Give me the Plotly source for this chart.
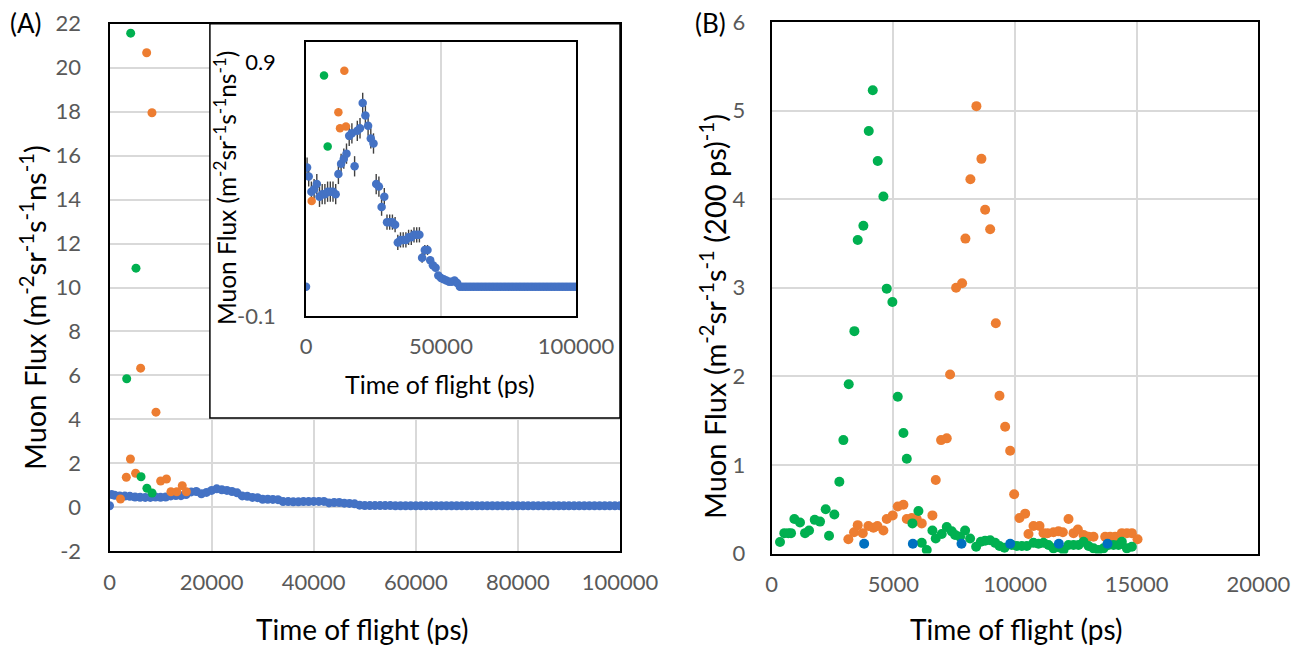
import plotly.graph_objects as go

# ---------------- DATA ----------------
# Panel A main (flux per ns)
blue_a_x = [0, 400, 1000, 2000, 3000, 4000, 5000, 6000, 7000, 8000, 9000, 10000,
            11000, 12000, 13000, 14000, 15000, 16000, 17000, 18000, 19000, 20000,
            21000, 22000, 23000, 24000, 25000, 26000, 27000, 28000, 29000, 30000,
            31000, 32000, 33000, 34000, 35000, 36000, 37000, 38000, 39000, 40000,
            41000, 42000, 43000, 44000, 45000, 46000, 47000, 48000, 49000, 50000,
            51000, 52000, 53000, 54000, 55000, 56000, 57000, 58000, 59000, 60000,
            61000, 62000, 63000, 64000, 65000, 66000, 67000, 68000, 69000, 70000,
            71000, 72000, 73000, 74000, 75000, 76000, 77000, 78000, 79000, 80000,
            81000, 82000, 83000, 84000, 85000, 86000, 87000, 88000, 89000, 90000,
            91000, 92000, 93000, 94000, 95000, 96000, 97000, 98000, 99000, 100000]
blue_a_y = [0.07, 0.58, 0.55, 0.52, 0.51, 0.5, 0.47, 0.46, 0.45, 0.45, 0.47, 0.46,
            0.47, 0.52, 0.54, 0.53, 0.58, 0.7, 0.72, 0.62, 0.68, 0.77,
            0.84, 0.8, 0.77, 0.72, 0.66, 0.52, 0.5, 0.45, 0.44, 0.37,
            0.37, 0.36, 0.35, 0.26, 0.26, 0.25, 0.25, 0.26, 0.26, 0.27,
            0.27, 0.27, 0.2, 0.22, 0.22, 0.19, 0.18, 0.16, 0.1, 0.08,
            0.08, 0.08, 0.08, 0.08, 0.08, 0.07, 0.07, 0.07, 0.07, 0.07,
            0.07, 0.07, 0.07, 0.07, 0.07, 0.07, 0.07, 0.07, 0.07, 0.07,
            0.07, 0.07, 0.07, 0.07, 0.07, 0.07, 0.07, 0.07, 0.07, 0.07,
            0.07, 0.07, 0.07, 0.07, 0.07, 0.07, 0.07, 0.07, 0.07, 0.07,
            0.07, 0.07, 0.07, 0.07, 0.07, 0.07, 0.07, 0.07, 0.07, 0.07]
orange_a_x = [2150, 3290, 4100, 5110, 6100, 7280, 8320, 9100, 10020, 11160,
              12030, 13180, 14250, 15060]
orange_a_y = [0.38, 1.37, 2.2, 1.55, 6.33, 20.68, 17.95, 4.33, 1.2, 1.29,
              0.71, 0.71, 0.98, 0.71]
green_a_x = [3370, 4150, 5190, 6180, 7330, 8340]
green_a_y = [5.85, 21.57, 10.88, 1.39, 0.87, 0.65]

# Inset (as drawn in the inset)
blue_in_y = [0.015, 0.485, 0.45, 0.39, 0.40, 0.42, 0.37, 0.38, 0.38, 0.39, 0.39, 0.39,
             0.38, 0.46, 0.50, 0.52, 0.54, 0.61, 0.62, 0.49, 0.63, 0.64,
             0.74, 0.69, 0.65, 0.60, 0.58, 0.42, 0.41, 0.33, 0.37, 0.27,
             0.27, 0.27, 0.26, 0.19, 0.20, 0.20, 0.20, 0.21, 0.21, 0.22,
             0.22, 0.22, 0.13, 0.16, 0.16, 0.12, 0.10, 0.09, 0.06, 0.05,
             0.045, 0.04, 0.035, 0.035, 0.04, 0.03, 0.015, 0.015, 0.015, 0.015,
             0.015, 0.015, 0.015, 0.015, 0.015, 0.015, 0.015, 0.015, 0.015, 0.015,
             0.015, 0.015, 0.015, 0.015, 0.015, 0.015, 0.015, 0.015, 0.015, 0.015,
             0.015, 0.015, 0.015, 0.015, 0.015, 0.015, 0.015, 0.015, 0.015, 0.015,
             0.015, 0.015, 0.015, 0.015, 0.015, 0.015, 0.015, 0.015, 0.015, 0.015]
blue_in_err = [0.0, 0.04, 0.04, 0.04, 0.04, 0.04, 0.04, 0.04, 0.04, 0.04, 0.04, 0.04,
               0.04, 0.04, 0.04, 0.04, 0.04, 0.04, 0.04, 0.04, 0.04, 0.04,
               0.04, 0.04, 0.04, 0.04, 0.04, 0.04, 0.04, 0.035, 0.035, 0.03,
               0.03, 0.03, 0.03, 0.03, 0.03, 0.03, 0.03, 0.03, 0.03, 0.03,
               0.03, 0.03, 0.02, 0.02, 0.02, 0.015, 0.01, 0.01, 0.0, 0.0,
               0.0, 0.0, 0.0, 0.0, 0.0, 0.0, 0.0, 0.0, 0.0, 0.0,
               0.0, 0.0, 0.0, 0.0, 0.0, 0.0, 0.0, 0.0, 0.0, 0.0,
               0.0, 0.0, 0.0, 0.0, 0.0, 0.0, 0.0, 0.0, 0.0, 0.0,
               0.0, 0.0, 0.0, 0.0, 0.0, 0.0, 0.0, 0.0, 0.0, 0.0,
               0.0, 0.0, 0.0, 0.0, 0.0, 0.0, 0.0, 0.0, 0.0, 0.0]
orange_in_x = [2100, 12000, 12600, 14200, 14800]
orange_in_y = [0.353, 0.703, 0.64, 0.867, 0.647]
green_in_x = [6670, 8030]
green_in_y = [0.848, 0.568]

# Panel B (flux per 200 ps)
green_b_x = [341, 519, 684, 794, 931, 1163, 1370, 1534, 1768, 1986, 2219, 2356,
             2575, 2780, 2946, 3165, 3398, 3535, 3768, 3988, 4153, 4357, 4590,
             4727, 4960, 5180, 5413, 5551, 5783, 6029, 6166, 6372, 6604, 6741,
             6988, 7193, 7399, 7536, 7741, 7947, 8152, 8401, 8593, 8771, 8977,
             9183, 9360, 9566, 9868, 10073, 10279, 10484, 10758, 10964, 11170,
             11375, 11580, 11786, 11991, 12197, 12403, 12608, 12814, 13019, 13225,
             13430, 13636, 13841, 14047, 14252, 14389, 14595, 14800]
green_b_y = [0.13, 0.23, 0.23, 0.23, 0.39, 0.35, 0.23, 0.26, 0.38, 0.36, 0.50, 0.20,
             0.44, 0.81, 1.28, 1.91, 2.51, 3.54, 3.70, 4.77, 5.23, 4.43, 4.03,
             2.99, 2.84, 1.77, 1.36, 1.07, 0.34, 0.48, 0.12, 0.04, 0.26, 0.17,
             0.22, 0.30, 0.25, 0.21, 0.19, 0.26, 0.17, 0.077, 0.133, 0.145, 0.15,
             0.12, 0.084, 0.066, 0.096, 0.084, 0.084, 0.084, 0.12, 0.11, 0.12,
             0.096, 0.058, 0.07, 0.04, 0.096, 0.096, 0.096, 0.133, 0.084, 0.058,
             0.04, 0.058, 0.096, 0.096, 0.096, 0.133, 0.058, 0.077]
orange_b_x = [3150, 3384, 3535, 3741, 3974, 4180, 4344, 4590, 4727, 4974, 5180,
              5413, 5551, 5756, 5961, 6166, 6604, 6741, 6960, 7193, 7330, 7577,
              7824, 7960, 8165, 8412, 8618, 8771, 8977, 9210, 9360, 9593, 9799,
              9963, 10182, 10415, 10552, 10758, 11005, 11170, 11334, 11580, 11786,
              11964, 12197, 12403, 12581, 12814, 13019, 13225, 13704, 13909, 14115,
              14389, 14595, 14800, 15033]
orange_b_y = [0.16, 0.24, 0.32, 0.23, 0.31, 0.29, 0.31, 0.26, 0.39, 0.43, 0.53,
              0.55, 0.39, 0.40, 0.39, 0.34, 0.43, 0.83, 1.28, 1.30, 2.02, 3.00,
              3.05, 3.555, 4.225, 5.05, 4.455, 3.88, 3.66, 2.60, 1.78, 1.43, 1.16,
              0.668, 0.40, 0.45, 0.22, 0.31, 0.31, 0.23, 0.23, 0.24, 0.25,
              0.24, 0.39, 0.23, 0.27, 0.21, 0.19, 0.19, 0.19, 0.19, 0.19,
              0.23, 0.23, 0.23, 0.16]
blue_b_x = [3800, 5800, 7800, 9800, 11800, 13800]
blue_b_y = [0.11, 0.11, 0.11, 0.11, 0.11, 0.11]

xticks_a = [0, 20000, 40000, 60000, 80000, 100000]
xticks_a_text = ["0", "20000", "40000", "60000", "80000", "100000"]
yticks_a = [-2, 0, 2, 4, 6, 8, 10, 12, 14, 16, 18, 20, 22]
yticks_a_text = ["-2", "0", "2", "4", "6", "8", "10", "12", "14", "16", "18", "20", "22"]
xticks_in = [0, 50000, 100000]
xticks_in_text = ["0", "50000", "100000"]
yticks_in = [-0.1, 0.9]
yticks_in_text = ["-0.1", "<span style='color:#000000'>0.9</span>"]
xticks_b = [0, 5000, 10000, 15000, 20000]
xticks_b_text = ["0", "5000", "10000", "15000", "20000"]
yticks_b = [0, 1, 2, 3, 4, 5, 6]

# ---------------- STYLE ----------------
W, H = 1306, 648
FONT = "Lato"
ORANGE = "#ED7D31"
GREEN = "#00B050"
BLUE_A = "#4472C4"
BLUE_B = "#0070C0"
GRID = "#D9D9D9"
TICKC = "#595959"


def dx(p):
    return p / W


def dy(p):
    return 1 - p / H


fig = go.Figure()

MS_A, MS_IN, MS_B = 9, 8.5, 10

# Panel A main
fig.add_trace(go.Scatter(x=blue_a_x, y=blue_a_y, mode="markers", xaxis="x", yaxis="y",
                         marker=dict(color=BLUE_A, size=MS_A), showlegend=False))
fig.add_trace(go.Scatter(x=orange_a_x, y=orange_a_y, mode="markers", xaxis="x", yaxis="y",
                         marker=dict(color=ORANGE, size=MS_A), showlegend=False))
fig.add_trace(go.Scatter(x=green_a_x, y=green_a_y, mode="markers", xaxis="x", yaxis="y",
                         marker=dict(color=GREEN, size=MS_A), showlegend=False))

# Inset
fig.add_trace(go.Scatter(x=blue_a_x, y=blue_in_y, mode="markers", xaxis="x3", yaxis="y3",
                         marker=dict(color=BLUE_A, size=MS_IN),
                         error_y=dict(type="data", array=blue_in_err, color="#404040",
                                      thickness=1.4, width=0),
                         showlegend=False))
fig.add_trace(go.Scatter(x=orange_in_x, y=orange_in_y, mode="markers", xaxis="x3", yaxis="y3",
                         marker=dict(color=ORANGE, size=MS_IN), showlegend=False))
fig.add_trace(go.Scatter(x=green_in_x, y=green_in_y, mode="markers", xaxis="x3", yaxis="y3",
                         marker=dict(color=GREEN, size=MS_IN), showlegend=False))

# Panel B
fig.add_trace(go.Scatter(x=orange_b_x, y=orange_b_y, mode="markers", xaxis="x2", yaxis="y2",
                         marker=dict(color=ORANGE, size=MS_B), showlegend=False))
fig.add_trace(go.Scatter(x=green_b_x, y=green_b_y, mode="markers", xaxis="x2", yaxis="y2",
                         marker=dict(color=GREEN, size=MS_B), showlegend=False))
fig.add_trace(go.Scatter(x=blue_b_x, y=blue_b_y, mode="markers", xaxis="x2", yaxis="y2",
                         marker=dict(color=BLUE_B, size=MS_B), showlegend=False))

tickfont = dict(family=FONT, size=22, color=TICKC)
common = dict(showline=True, mirror=True, linecolor="black", zeroline=False,
              gridcolor=GRID, gridwidth=1.5, tickfont=tickfont, ticks="",
              automargin=False)

fig.update_layout(
    width=W, height=H, margin=dict(l=0, r=0, t=0, b=0, pad=0, autoexpand=False),
    paper_bgcolor="white", plot_bgcolor="white",
    font=dict(family=FONT, color="black"),
    xaxis=dict(domain=[dx(109.5), dx(620)], range=[0, 100000], tickvals=xticks_a,
               ticktext=xticks_a_text,
               linewidth=2, ticklabelstandoff=10, anchor="y", **common),
    yaxis=dict(domain=[dy(551.3), dy(23.7)], range=[-2, 22], tickvals=yticks_a,
               ticktext=yticks_a_text,
               linewidth=2, ticklabelstandoff=22, anchor="x", **common),
    xaxis3=dict(domain=[dx(306), dx(576)], range=[0, 100000], tickvals=xticks_in,
                ticktext=xticks_in_text,
                linewidth=1.5, ticklabelstandoff=10, anchor="y3", **common),
    yaxis3=dict(domain=[dy(316), dy(42)], range=[-0.1, 0.98], tickvals=yticks_in,
                ticktext=yticks_in_text, showgrid=False, linewidth=1.5,
                ticklabelstandoff=24, anchor="x3",
                **{k: v for k, v in common.items() if k != "gridcolor"}),
    xaxis2=dict(domain=[dx(771.7), dx(1258.4)], range=[0, 20000], tickvals=xticks_b,
                ticktext=xticks_b_text,
                linewidth=2, ticklabelstandoff=10, anchor="y2", **common),
    yaxis2=dict(domain=[dy(553.5), dy(22)], range=[0, 6], tickvals=yticks_b,
                linewidth=2, ticklabelstandoff=20, anchor="x2", **common),
)

# inset frame (white box over panel A grid)
fig.add_shape(type="rect", xref="x", yref="y",
              x0=(210 - 109.5) / 511.0 * 100000, x1=100000,
              y0=(507.3 - 418) / 21.98, y1=22,
              fillcolor="white", line=dict(color="black", width=1.5), layer="between")

title_a = "Muon Flux (m<sup>-2</sup>sr<sup>-1</sup>s<sup>-1</sup>ns<sup>-1</sup>)"
title_b = "Muon Flux (m<sup>-2</sup>sr<sup>-1</sup>s<sup>-1</sup> (200 ps)<sup>-1</sup>)"
ann = [
    dict(text="(A)", x=dx(26), y=dy(23), size=26),
    dict(text="(B)", x=dx(710), y=dy(23), size=26),
    dict(text=title_a, x=dx(33), y=dy(308), size=29, angle=-90),
    dict(text="Time of flight (ps)", x=dx(362), y=dy(629), size=28),
    dict(text=title_b, x=dx(713), y=dy(317), size=29, angle=-90),
    dict(text="Time of flight (ps)", x=dx(1017), y=dy(629), size=28),
    dict(text=title_a, x=dx(225), y=dy(188), size=24.5, angle=-90),
    dict(text="Time of flight (ps)", x=dx(440), y=dy(384), size=25),
]
for a in ann:
    fig.add_annotation(text=a["text"], x=a["x"], y=a["y"], xref="paper", yref="paper",
                       xanchor="center", yanchor="middle", showarrow=False,
                       textangle=a.get("angle", 0),
                       font=dict(family=FONT, size=a["size"], color="black"))

fig.write_html("out.html")
